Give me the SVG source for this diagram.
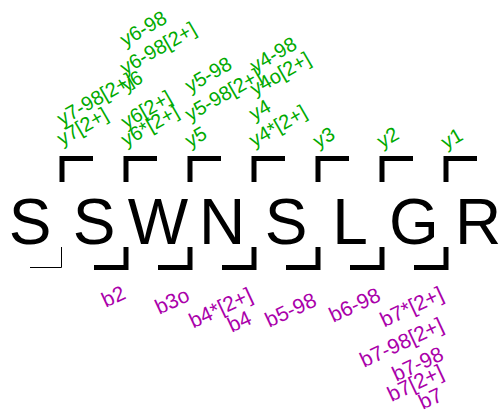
<svg xmlns="http://www.w3.org/2000/svg" width="501" height="410" viewBox="0 0 501 410">
<style>
.aa{font-family:"Liberation Sans",Arial,sans-serif;font-size:64px;fill:#000;text-anchor:middle}
.y{font-family:"Liberation Sans",Arial,sans-serif;font-size:20px;fill:#00aa00}
.b{font-family:"Liberation Sans",Arial,sans-serif;font-size:21px;fill:#aa00aa;text-anchor:end}
.br{fill:none;stroke:#000;stroke-width:5;stroke-linejoin:miter;stroke-linecap:butt}
.thin{fill:none;stroke:#000;stroke-width:1}
</style>
<rect width="501" height="410" fill="#fff"/>
<g id="residues">
<g id="r1"><text class="aa" x="30" y="244">S</text></g>
<g id="r2"><text class="aa" x="94" y="244">S</text></g>
<g id="r3"><text class="aa" x="158" y="244">W</text></g>
<g id="r4"><text class="aa" x="222" y="244">N</text></g>
<g id="r5"><text class="aa" x="286" y="244">S</text></g>
<g id="r6"><text class="aa" x="350" y="244">L</text></g>
<g id="r7"><text class="aa" x="414" y="244">G</text></g>
<g id="r8"><text class="aa" x="478" y="244">R</text></g>
</g>
<g id="connectors">
<polyline class="br" points="93,158.5 62,158.5 62,182"/>
<polyline class="br" points="157,158.5 126,158.5 126,182"/>
<polyline class="br" points="221,158.5 190,158.5 190,182"/>
<polyline class="br" points="285,158.5 254,158.5 254,182"/>
<polyline class="br" points="349,158.5 318,158.5 318,182"/>
<polyline class="br" points="413,158.5 382,158.5 382,182"/>
<polyline class="br" points="477,158.5 446,158.5 446,182"/>
<polyline class="thin" points="61.5,247 61.5,267.5 30,267.5"/>
<polyline class="br" points="126,247 126,267.5 94,267.5"/>
<polyline class="br" points="190,247 190,267.5 158,267.5"/>
<polyline class="br" points="254,247 254,267.5 222,267.5"/>
<polyline class="br" points="318,247 318,267.5 286,267.5"/>
<polyline class="br" points="382,247 382,267.5 350,267.5"/>
<polyline class="br" points="446,247 446,267.5 414,267.5"/>
</g>
<g id="ylabels">
<g id="y7"><text class="y" transform="translate(62,146) rotate(-30)">y7[2+]</text><text class="y" transform="translate(62,126) rotate(-30)">y7-98[2+]</text></g>
<g id="y6"><text class="y" transform="translate(126,147) rotate(-30)">y6*[2+]</text><text class="y" transform="translate(126,129) rotate(-30)">y6[2+]</text><text class="y" transform="translate(126,92) rotate(-30)">y6</text><text class="y" transform="translate(125,75) rotate(-30)">y6-98[2+]</text><text class="y" transform="translate(125,47) rotate(-30)">y6-98</text></g>
<g id="y5"><text class="y" transform="translate(190,148) rotate(-30)">y5</text><text class="y" transform="translate(190,121.5) rotate(-30)">y5-98[2+]</text><text class="y" transform="translate(190,93) rotate(-30)">y5-98</text></g>
<g id="y4"><text class="y" transform="translate(254,147.5) rotate(-30)">y4*[2+]</text><text class="y" transform="translate(254,121) rotate(-30)">y4</text><text class="y" transform="translate(255,96) rotate(-30)">y4o[2+]</text><text class="y" transform="translate(255,73) rotate(-30)">y4-98</text></g>
<g id="y3"><text class="y" transform="translate(318,148.5) rotate(-30)">y3</text></g>
<g id="y2"><text class="y" transform="translate(382,148.5) rotate(-30)">y2</text></g>
<g id="y1"><text class="y" transform="translate(446,149.5) rotate(-30)">y1</text></g>
</g>
<g id="blabels">
<g id="b2"><text class="b" transform="translate(127,298) rotate(-25)">b2</text></g>
<g id="b3"><text class="b" transform="translate(191,300) rotate(-25)">b3o</text></g>
<g id="b4"><text class="b" transform="translate(254,300) rotate(-25)">b4*[2+]</text><text class="b" transform="translate(253,323) rotate(-25)">b4</text></g>
<g id="b5"><text class="b" transform="translate(318,305) rotate(-25)">b5-98</text></g>
<g id="b6"><text class="b" transform="translate(382,300) rotate(-25)">b6-98</text></g>
<g id="b7"><text class="b" transform="translate(445,299) rotate(-25)">b7*[2+]</text><text class="b" transform="translate(445,330) rotate(-25)">b7-98[2+]</text><text class="b" transform="translate(445,359) rotate(-25)">b7-98</text><text class="b" transform="translate(445,377) rotate(-25)">b7[2+]</text><text class="b" transform="translate(444,400) rotate(-25)">b7</text></g>
</g>
</svg>
